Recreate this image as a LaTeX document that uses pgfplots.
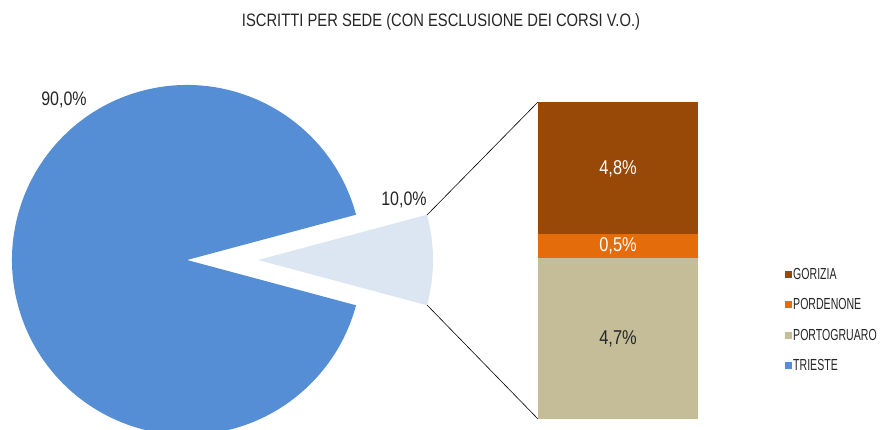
\documentclass[border=0pt]{standalone}
\usepackage{pgfplots}
\pgfplotsset{compat=1.18}
\usepackage{fontspec}
\setmainfont{Liberation Sans}[FakeStretch=0.82]
\newfontfamily\legfont{Liberation Sans}[FakeStretch=0.66]
\definecolor{trieste}{HTML}{558ED5}
\definecolor{slice}{HTML}{DCE6F2}
\definecolor{gor}{HTML}{984807}
\definecolor{por}{HTML}{E46C0A}
\definecolor{portg}{HTML}{C4BD97}
\definecolor{txt}{HTML}{262626}
% Data: TRIESTE 90.0 %, altre sedi 10.0 % (GORIZIA 4.8, PORDENONE 0.5, PORTOGRUARO 4.7)
\begin{document}
\begin{tikzpicture}
\begin{axis}[
  at={(0pt,0pt)}, anchor=south west,
  width=882pt, height=430pt, scale only axis,
  xmin=0, xmax=882, ymin=0, ymax=430, enlargelimits=false,
  hide axis, clip=true,
  legend style={at={(axis cs:785,163)}, anchor=north west, draw=none, fill=none,
    font=\legfont\fontsize{16}{18}\selectfont\color{txt}, row sep=15.7pt,
    nodes={inner sep=1pt}, inner sep=0pt},
  legend cell align=left,
  legend image code/.code={\fill[#1] (0pt,-3.5pt) rectangle (7pt,3.5pt);},
]
\addlegendimage{fill=gor, draw=none}
\addlegendentry{GORIZIA}
\addlegendimage{fill=por, draw=none}
\addlegendentry{PORDENONE}
\addlegendimage{fill=portg, draw=none}
\addlegendentry{PORTOGRUARO}
\addlegendimage{fill=trieste, draw=none}
\addlegendentry{TRIESTE}
% pie: TRIESTE
\fill[trieste] (axis cs:187,170) -- ++(15:175pt) arc[start angle=15, end angle=345, radius=175pt] -- cycle;
% exploded slice: altre sedi
\fill[slice] (axis cs:258,170) -- ++(-15:175pt) arc[start angle=-15, end angle=15, radius=175pt] -- cycle;
% connector lines
\draw[black, line width=0.6pt] (axis cs:427,215) -- (axis cs:538,328);
\draw[black, line width=0.6pt] (axis cs:427,125) -- (axis cs:538,11);
% labels
\node[txt, font=\fontsize{19.5}{22}\selectfont] at (axis cs:64,330) {90,0\%};
\node[txt, font=\fontsize{19.5}{22}\selectfont] at (axis cs:404,230) {10,0\%};
\node[txt, font=\fontsize{18}{20}\selectfont] at (axis cs:441,408) {ISCRITTI PER SEDE (CON ESCLUSIONE DEI CORSI V.O.)};
\end{axis}
\begin{axis}[
  at={(538pt,11pt)}, anchor=south west,
  width=160pt, height=317pt, scale only axis,
  hide axis, ymin=0, ymax=10, xmin=-0.5, xmax=0.5,
  ybar stacked, bar width=160pt, clip=false,
]
\addplot[fill=portg, draw=none] coordinates {(0,5.08)};
\addplot[fill=por, draw=none] coordinates {(0,0.76)};
\addplot[fill=gor, draw=none] coordinates {(0,4.16)};
\end{axis}
\begin{axis}[
  at={(538pt,11pt)}, anchor=south west,
  width=160pt, height=317pt, scale only axis,
  hide axis, ymin=0, ymax=10, xmin=-0.5, xmax=0.5, clip=false,
]
\node[txt, font=\fontsize{20}{22}\selectfont] at (axis cs:0,2.52) {4,7\%};
\node[white, font=\fontsize{20}{22}\selectfont] at (axis cs:0,5.45) {0,5\%};
\node[white, font=\fontsize{20}{22}\selectfont] at (axis cs:0,7.88) {4,8\%};
\end{axis}
\pgfresetboundingbox
\useasboundingbox (0pt,0pt) rectangle (882pt,430pt);
\end{tikzpicture}
\end{document}
